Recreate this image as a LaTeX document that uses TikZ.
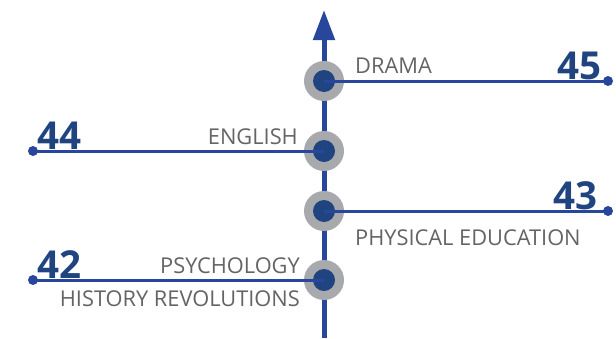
\documentclass[tikz,border=0pt]{standalone}
\usepackage{fontspec}
\setmainfont{Open Sans}
\usetikzlibrary{arrows.meta}
\definecolor{axisblue}{RGB}{40,70,155}
\definecolor{navy}{RGB}{31,68,128}
\definecolor{ringgray}{RGB}{167,169,172}
\definecolor{labelgray}{RGB}{100,100,100}
\tikzset{
  ring/.style={circle,fill=ringgray,minimum size=40bp,inner sep=0pt},
  core/.style={circle,fill=navy,minimum size=22bp,inner sep=0pt},
  enddot/.style={circle,fill=axisblue,minimum size=10bp,inner sep=0pt},
  branch/.style={draw=axisblue,line width=3bp},
  lbl/.style={text=labelgray,font=\fontsize{21.8bp}{26bp}\selectfont,inner sep=0pt},
  num/.style={text=navy,font=\bfseries\fontsize{38.5bp}{40bp}\selectfont,inner sep=0pt}
}
\begin{document}
\begin{tikzpicture}[x=1bp,y=-1bp]
\useasboundingbox (0,0) rectangle (616,338);
\coordinate (bot) at (324,338);
\coordinate (top) at (324,10);
\draw[draw=axisblue,line width=5bp,-{Triangle[width=21bp,length=30bp]}] (bot) -- (top);
% rings
\foreach \n/\y in {d/81,e/151,p/211,s/280}{
  \node[ring] (r\n) at (324,\y) {};
  \node[core] (c\n) at (324,\y) {};
}
% end dots
\node[enddot] (dd) at (608,81) {};
\node[enddot] (de) at (33,151) {};
\node[enddot] (dp) at (608,211) {};
\node[enddot] (ds) at (33,280) {};
\draw[branch] (cd.center) -- (dd.center);
\draw[branch] (ce.center) -- (de.center);
\draw[branch] (cp.center) -- (dp.center);
\draw[branch] (cs.center) -- (ds.center);
% numbers
\node[num,anchor=base east] (n45) at (602,79) {45};
\node[num,anchor=base west] (n44) at (37,149) {44};
\node[num,anchor=base east] (n43) at (598,209) {43};
\node[num,anchor=base west] (n42) at (37,278) {42};
% labels
\node[lbl,anchor=base west] (ldrama) at (355,73) {DRAMA};
\node[lbl,anchor=base east] (leng) at (298,144) {ENGLISH};
\node[lbl,anchor=base west] (lpe) at (355,245) {PHYSICAL EDUCATION};
\node[lbl,anchor=base east] (lpsy) at (300,273) {PSYCHOLOGY};
\node[lbl,anchor=base east] (lhist) at (300,306) {HISTORY REVOLUTIONS};
\end{tikzpicture}
\end{document}
